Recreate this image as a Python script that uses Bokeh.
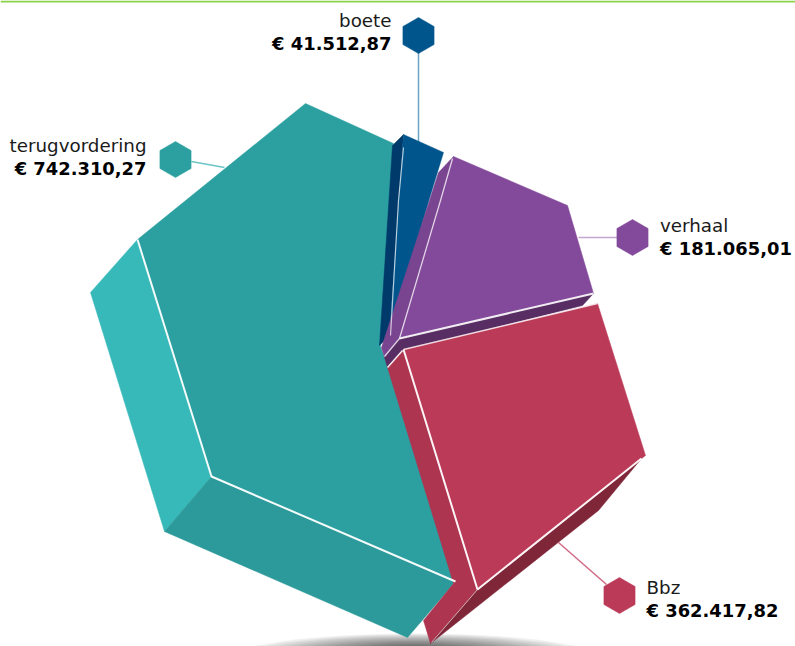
from bokeh.plotting import figure
from bokeh.embed import file_html
from bokeh.resources import INLINE
from bokeh.core.properties import value
import math

W, H = 795, 646

categories = ["terugvordering", "boete", "verhaal", "Bbz"]
amounts = [742310.27, 41512.87, 181065.01, 362417.82]
amount_labels = ["€ 742.310,27", "€ 41.512,87", "€ 181.065,01", "€ 362.417,82"]
colors = ["#2ca0a0", "#00568c", "#83499a", "#bb3a58"]

hex_x = [175, 418, 632, 619]
hex_y = [159, 35, 237, 595]
leader_x = [[191, 224], [418, 418], [578, 617], [558, 606]]
leader_y = [[161, 167], [52, 142], [237, 237], [542, 584]]
leader_colors = ["#6cc5c5", "#6ea3c4", "#c4a6d0", "#d06a85"]
label_x = [146, 391, 659.5, 646]
label_y = [144.5, 19.5, 224.5, 586.5]
label_align = ["right", "right", "left", "left"]

faces = [
    ("#38b9b9", [(137,239),(90,292),(164,531),(211,476)]),
    ("#2c9a9a", [(211,476),(164,531),(407,637),(455,581)]),
    ("#2ca0a0", [(137,239),(305,103),(393,143),(380,346),(388,368),(455,581),(211,476)]),
    ("#003a6b", [(403,134),(392,145),(379,345),(389,335)]),
    ("#00568c", [(403,134),(443,152),(429,198),(389,335)]),
    ("#7a4590", [(453,156),(438,172),(429,200),(381,347),(384,357),(399,338)]),
    ("#83499a", [(453,156),(567,205),(593,293),(399,338)]),
    ("#572d63", [(399,338),(593,293),(582,305),(402,350),(387,367),(384,357)]),
    ("#ad3550", [(403,349),(387,367),(453,583),(423,620),(430,643),(477,589)]),
    ("#7f2638", [(477,589),(641,458),(598,510),(430,643)]),
    ("#bb3a58", [(403,349),(597,303),(645,455),(477,589)]),
]
edges = [
    ([137,211,455], [239,476,581], 2, 0.95),
    ([403,398,390], [147,200,335], 1.2, 0.7),
    ([452,440,399,384], [158,200,338,356], 1.3, 0.75),
    ([399,593], [338,293], 2, 0.9),
    ([403,597], [349,303], 1.3, 0.8),
    ([403,477,641], [349,589,458], 2, 0.95),
    ([477,431], [589,642], 1, 0.6),
    ([402,387], [350,367], 1.5, 0.9),
]

p = figure(width=W, height=H, x_range=(0, W), y_range=(H, 0),
           output_backend="svg", toolbar_location=None, min_border=0,
           outline_line_color=None,
           background_fill_color="white", border_fill_color="white")
p.axis.visible = False
p.grid.visible = False

# ground shadow
for i in range(16):
    p.ellipse(x=[415], y=[660], width=[380 - i*20], height=[54 - i*2],
              fill_color="#000000", fill_alpha=0.06, line_color=None)

# top rule
p.quad(left=[0], right=[W], top=[0], bottom=[2], fill_color="#8bd24a", line_color=None)

# leaders
for lx, ly, c in zip(leader_x, leader_y, leader_colors):
    p.line(lx, ly, line_color=c, line_width=1.5)

# faces
p.patches([[v[0] for v in f[1]] for f in faces], [[v[1] for v in f[1]] for f in faces],
          fill_color=[f[0] for f in faces], line_color=[f[0] for f in faces], line_width=0.5)

for ex, ey, w, a in edges:
    p.line(ex, ey, line_color="#ffffff", line_width=w, line_alpha=a)

# markers
p.scatter(hex_x, hex_y, marker="hex", size=36, angle=math.pi/2,
          fill_color=colors, line_color=colors, line_width=0.5)

# labels
for i in range(4):
    p.text([label_x[i]], [label_y[i]], text=[categories[i]], text_align=label_align[i],
           text_baseline="middle", text_font=value("DejaVu Sans"), text_font_size="18.3px",
           text_color="#1a1a1a")
    p.text([label_x[i]], [label_y[i] + 23], text=[amount_labels[i]], text_align=label_align[i],
           text_baseline="middle", text_font=value("DejaVu Sans"), text_font_size="17.9px",
           text_font_style="bold", text_color="#000000")

open("out.html", "w").write(file_html(p, INLINE))
